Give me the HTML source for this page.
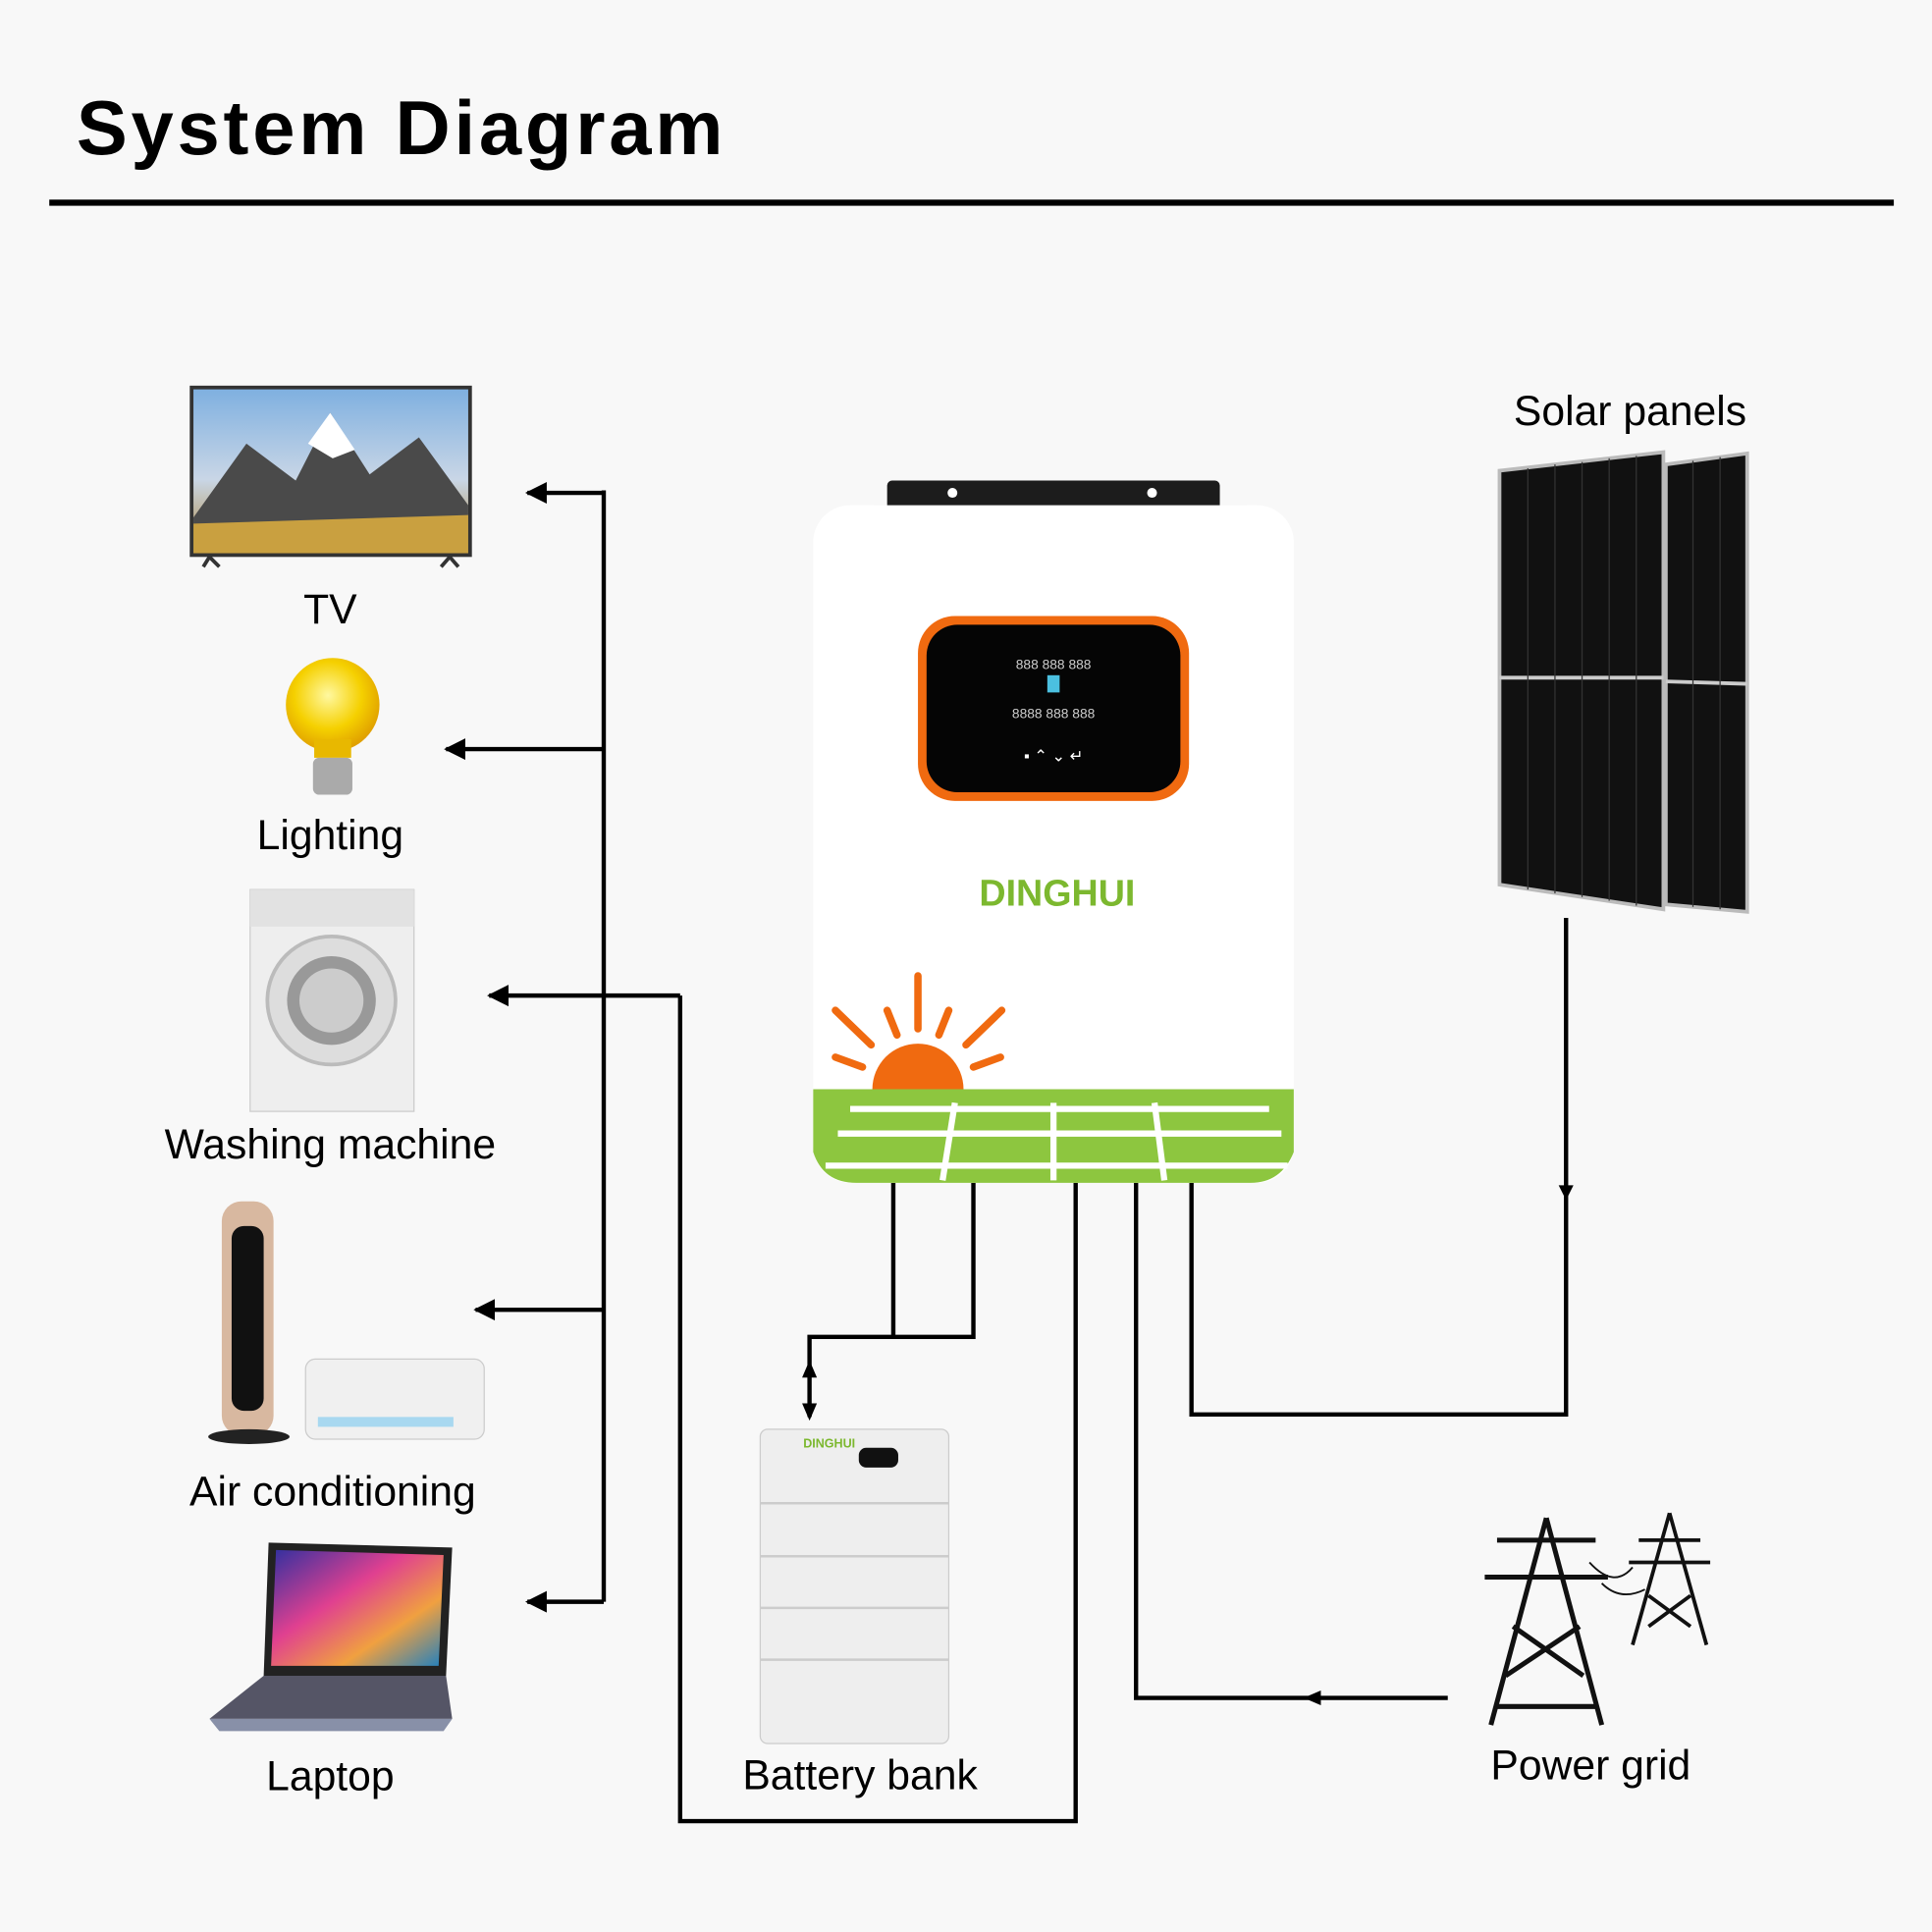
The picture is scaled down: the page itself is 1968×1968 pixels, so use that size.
<!DOCTYPE html>
<html><head><meta charset="utf-8"><style>
html,body{margin:0;padding:0;background:#f8f8f8}
svg{display:block}
text{font-family:"Liberation Sans",sans-serif}
</style></head><body>
<svg width="1968" height="1968" viewBox="0 0 1568 1568" xmlns="http://www.w3.org/2000/svg">
<defs>
<marker id="ah" viewBox="0 0 10 10" refX="9" refY="5" markerWidth="5" markerHeight="5" orient="auto"><path d="M0,0 L10,5 L0,10 z" fill="#000"/></marker>
<linearGradient id="sky" x1="0" y1="0" x2="0" y2="1"><stop offset="0" stop-color="#7fb0e0"/><stop offset="0.55" stop-color="#c9d6e6"/><stop offset="1" stop-color="#b08a40"/></linearGradient>
<radialGradient id="bulb" cx="0.45" cy="0.4" r="0.6"><stop offset="0" stop-color="#fff8a0"/><stop offset="0.6" stop-color="#f5d000"/><stop offset="1" stop-color="#e0a000"/></radialGradient>
<linearGradient id="lap" x1="0" y1="0" x2="1" y2="1"><stop offset="0" stop-color="#3030a0"/><stop offset="0.4" stop-color="#e04090"/><stop offset="0.7" stop-color="#f0a040"/><stop offset="1" stop-color="#2080c0"/></linearGradient>
</defs>
<rect width="1568" height="1568" fill="#f8f8f8"/>
<text x="62" y="125" font-size="62" font-weight="bold" fill="#000" letter-spacing="3">System Diagram</text>
<rect x="40" y="162" width="1497" height="5" fill="#000"/>

<!-- TV -->
<rect x="154" y="313" width="229" height="139" fill="#333"/>
<rect x="157" y="316" width="223" height="133" fill="url(#sky)"/>
<path d="M157,420 L200,360 L240,390 L268,335 L300,385 L340,355 L380,410 L380,449 L157,449z" fill="#4a4a4a"/>
<path d="M250,360 L268,335 L288,365 L270,372z" fill="#fff"/>
<path d="M157,425 L380,418 L380,449 L157,449z" fill="#c9a040"/>
<path d="M165,460 L170,452 L178,460 M358,460 L365,452 L372,460" stroke="#333" stroke-width="3" fill="none"/>
<text x="268" y="506" font-size="34" text-anchor="middle">TV</text>

<!-- bulb -->
<circle cx="270" cy="572" r="38" fill="url(#bulb)"/>
<rect x="255" y="600" width="30" height="15" fill="#e8b800"/>
<rect x="254" y="615" width="32" height="30" rx="5" fill="#aaa"/>
<text x="268" y="689" font-size="34" text-anchor="middle">Lighting</text>

<!-- washing machine -->
<rect x="203" y="722" width="133" height="180" fill="#eee" stroke="#ccc"/>
<rect x="203" y="722" width="133" height="30" fill="#e2e2e2"/>
<circle cx="269" cy="812" r="52" fill="#ddd" stroke="#bbb" stroke-width="3"/>
<circle cx="269" cy="812" r="36" fill="#999"/>
<circle cx="269" cy="812" r="26" fill="#ccc"/>
<text x="268" y="940" font-size="34" text-anchor="middle">Washing machine</text>

<!-- fan + AC -->
<rect x="180" y="975" width="42" height="190" rx="16" fill="#d8b8a0"/>
<rect x="188" y="995" width="26" height="150" rx="10" fill="#111"/>
<ellipse cx="202" cy="1166" rx="33" ry="6" fill="#222"/>
<rect x="248" y="1103" width="145" height="65" rx="8" fill="#f0f0f0" stroke="#ccc"/>
<rect x="258" y="1150" width="110" height="8" fill="#a8d8f0"/>
<text x="270" y="1222" font-size="34" text-anchor="middle">Air conditioning</text>

<!-- laptop -->
<path d="M218,1252 L367,1256 L362,1360 L214,1360z" fill="#222"/>
<path d="M224,1258 L360,1262 L356,1352 L220,1352z" fill="url(#lap)"/>
<path d="M214,1360 L362,1360 L367,1395 L170,1395z" fill="#556"/>
<path d="M170,1395 L367,1395 L360,1405 L178,1405z" fill="#8890a8"/>
<text x="268" y="1453" font-size="34" text-anchor="middle">Laptop</text>

<!-- load lines -->
<g stroke="#000" stroke-width="3.5" fill="none">
<path d="M490,398 L490,1300"/>
<path d="M490,400 L428,400" marker-end="url(#ah)"/>
<path d="M490,608 L362,608" marker-end="url(#ah)"/>
<path d="M552,808 L397,808" marker-end="url(#ah)"/>
<path d="M490,1063 L386,1063" marker-end="url(#ah)"/>
<path d="M490,1300 L428,1300" marker-end="url(#ah)"/>
<path d="M552,808 L552,1478 L873,1478 L873,960"/>
<path d="M725,960 L725,1085 M790,960 L790,1085 L657,1085 L657,1150"/>
<path d="M967,960 L967,1148 L1271,1148 L1271,745"/>
<path d="M922,960 L922,1378 L1175,1378"/>
</g>
<path d="M657,1104 L651,1118 L663,1118z M657,1153 L651,1139 L663,1139z" fill="#000"/>
<path d="M1271,974 L1265,962 L1277,962z" fill="#000"/>
<path d="M1058,1378 L1072,1372 L1072,1384z" fill="#000"/>

<!-- inverter -->
<rect x="720" y="390" width="270" height="25" rx="4" fill="#1c1c1c"/>
<circle cx="773" cy="400" r="4" fill="#fff"/><circle cx="935" cy="400" r="4" fill="#fff"/>
<rect x="660" y="410" width="390" height="550" rx="30" fill="#fff"/>
<rect x="745" y="500" width="220" height="150" rx="30" fill="#f06a10"/>
<rect x="752" y="507" width="206" height="136" rx="25" fill="#050505"/>
<text x="855" y="543" font-size="11" fill="#ccc" text-anchor="middle" font-family="Liberation Mono">888   888   888</text>
<text x="855" y="583" font-size="11" fill="#ccc" text-anchor="middle" font-family="Liberation Mono">8888  888   888</text>
<rect x="850" y="548" width="10" height="14" fill="#4bc0e0"/>
<text x="855" y="618" font-size="13" fill="#fff" text-anchor="middle">▪  ⌃  ⌄  ↵</text>
<text x="858" y="735" font-size="30" font-weight="bold" fill="#7cb82f" text-anchor="middle">DINGHUI</text>
<g stroke="#f06a10" stroke-width="6" stroke-linecap="round">
<path d="M745,792 L745,835 M720,820 L728,840 M770,820 L762,840 M678,820 L707,848 M813,820 L784,848 M678,858 L700,866 M812,858 L790,866"/>
</g>
<path d="M708,884 A37,37 0 0 1 782,884z" fill="#f06a10"/>
<path d="M660,884 L1050,884 L1050,935 Q1040,960 1015,960 L695,960 Q668,960 660,935z" fill="#8dc63f"/>
<g stroke="#fff" stroke-width="5" fill="none">
<path d="M680,920 L1040,920 M670,946 L1045,946 M690,900 L1030,900"/>
<path d="M775,895 L765,958 M855,895 L855,958 M937,895 L945,958"/>
</g>

<!-- solar panels -->
<text x="1323" y="345" font-size="34" text-anchor="middle">Solar panels</text>
<path d="M1217,382 L1350,367 L1350,738 L1217,718z" fill="#111" stroke="#bbb" stroke-width="3"/>
<path d="M1352,377 L1418,368 L1418,740 L1352,734z" fill="#111" stroke="#bbb" stroke-width="3"/>
<path d="M1217,550 L1350,550 M1352,553 L1418,555" stroke="#ccc" stroke-width="3"/>
<g stroke="#333" stroke-width="1">
<path d="M1240,380 L1240,722 M1262,377 L1262,725 M1284,375 L1284,728 M1306,372 L1306,731 M1328,370 L1328,735 M1374,374 L1374,736 M1396,371 L1396,738"/>
</g>

<!-- battery -->
<rect x="617" y="1160" width="153" height="255" rx="6" fill="#eee" stroke="#ccc"/>
<path d="M617,1220 L770,1220 M617,1263 L770,1263 M617,1305 L770,1305 M617,1347 L770,1347" stroke="#ccc" stroke-width="2"/>
<rect x="697" y="1175" width="32" height="16" rx="6" fill="#111"/>
<text x="673" y="1175" font-size="10" font-weight="bold" fill="#7cb82f" text-anchor="middle">DINGHUI</text>
<text x="698" y="1452" font-size="34" text-anchor="middle">Battery bank</text>

<!-- power grid -->
<g stroke="#111" stroke-width="4" fill="none">
<path d="M1255,1232 L1210,1400 M1255,1232 L1300,1400 M1215,1250 L1295,1250 M1205,1280 L1305,1280 M1228,1320 L1285,1360 M1282,1320 L1222,1360 M1215,1385 L1295,1385"/>
</g>
<g stroke="#111" stroke-width="3" fill="none">
<path d="M1355,1228 L1325,1335 M1355,1228 L1385,1335 M1330,1250 L1380,1250 M1322,1268 L1388,1268 M1338,1295 L1372,1320 M1372,1295 L1338,1320"/>
<path d="M1290,1268 Q1310,1290 1325,1272 M1300,1285 Q1315,1300 1335,1290" stroke-width="1.5"/>
</g>
<text x="1291" y="1444" font-size="34" text-anchor="middle">Power grid</text>
</svg>
</body></html>
